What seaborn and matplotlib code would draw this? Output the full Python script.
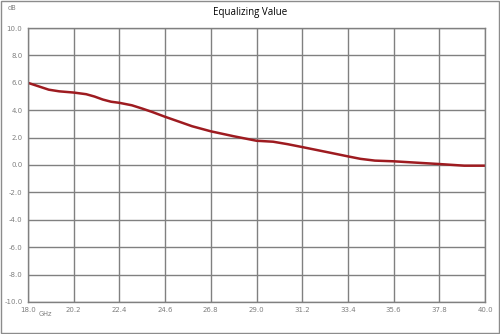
import pandas as pd
import matplotlib
matplotlib.use("Agg")
import matplotlib.pyplot as plt
import seaborn as sns
from matplotlib.patches import Rectangle

# data
freq_ghz = [18.0, 18.5, 19.0, 19.5, 20.2, 20.8, 21.2, 21.6, 22.0, 22.4,
            23.0, 23.5, 24.0, 24.6, 25.3, 25.9, 26.8, 27.9, 29.0, 29.8,
            30.5, 31.2, 32.5, 33.4, 34.0, 34.7, 35.6, 36.7, 37.8, 39.0, 40.0]
eq_db = [6.00, 5.75, 5.50, 5.38, 5.29, 5.17, 5.00, 4.78, 4.62, 4.54,
         4.36, 4.12, 3.86, 3.52, 3.15, 2.83, 2.46, 2.10, 1.77, 1.70,
         1.52, 1.31, 0.91, 0.63, 0.45, 0.32, 0.27, 0.17, 0.07, -0.05, -0.05]
x_ticks = [18.0, 20.2, 22.4, 24.6, 26.8, 29.0, 31.2, 33.4, 35.6, 37.8, 40.0]
y_ticks = [-10, -8, -6, -4, -2, 0, 2, 4, 6, 8, 10]

df = pd.DataFrame({"freq": freq_ghz, "eq": eq_db})

sns.set_style("white")
plt.rcParams['font.family'] = ['DejaVu Sans']

fig = plt.figure(figsize=(5.0, 3.34), dpi=100)
ax = fig.add_axes([0.056, 0.096, 0.914, 0.820])

sns.lineplot(data=df, x="freq", y="eq", ax=ax, color="#9e1b20", linewidth=1.8)

ax.set_xlim(18, 40)
ax.set_ylim(-10, 10)
ax.set_xticks(x_ticks)
ax.set_yticks(y_ticks)
ax.set_xticklabels([f"{v:.1f}" for v in x_ticks])
ax.set_yticklabels([f"{v:.1f}" for v in y_ticks])
ax.tick_params(labelsize=5, colors="#7f7f7f", length=0, pad=4)
ax.set_xlabel("")
ax.set_ylabel("")
ax.grid(True, color="#808080", linewidth=1)
for s in ax.spines.values():
    s.set_color("#808080")
    s.set_linewidth(1)

fig.text(0.5, 0.963, "Equalizing Value", ha="center", va="center",
         fontsize=7, family="Open Sans", color="black")
fig.text(0.016, 0.975, "dB", ha="left", va="center", fontsize=4.8, color="#7f7f7f")
fig.text(0.078, 0.059, "GHz", ha="left", va="center", fontsize=4.8, color="#7f7f7f")

fig.patches.append(Rectangle((0.002, 0.003), 0.995, 0.993, transform=fig.transFigure,
                             fill=False, edgecolor="#8c8c8c", linewidth=1))

fig.savefig("out.png", dpi=100)
